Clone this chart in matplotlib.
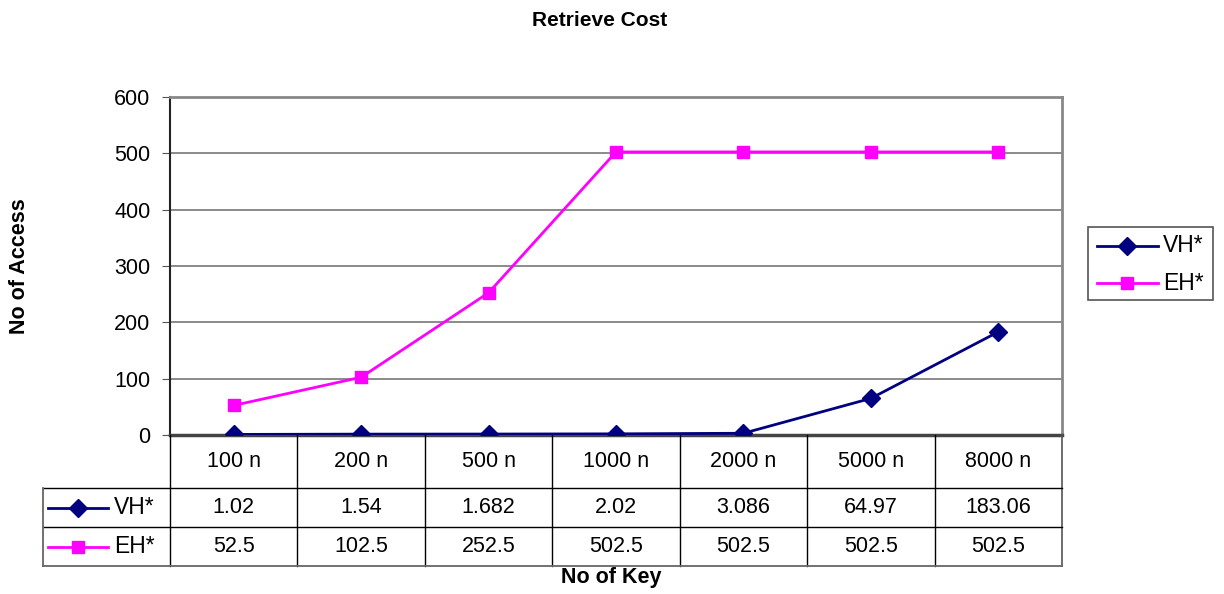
import matplotlib
matplotlib.use("Agg")
import matplotlib.pyplot as plt
from matplotlib.lines import Line2D
from matplotlib.patches import Rectangle

plt.rcParams['font.family'] = ['Liberation Sans', 'DejaVu Sans']

keys = ["100 n", "200 n", "500 n", "1000 n", "2000 n", "5000 n", "8000 n"]
vh = [1.02, 1.54, 1.682, 2.02, 3.086, 64.97, 183.06]
eh = [52.5, 102.5, 252.5, 502.5, 502.5, 502.5, 502.5]
vh_txt = ["1.02", "1.54", "1.682", "2.02", "3.086", "64.97", "183.06"]
eh_txt = ["52.5", "102.5", "252.5", "502.5", "502.5", "502.5", "502.5"]
yticks = [0, 100, 200, 300, 400, 500, 600]

W, H = 1224, 594
VH_COL = "#000080"
EH_COL = "#FF00FF"
FS = 15.5

def fx(x):
    return x / W

def fy(y):
    return 1 - y / H

fig = plt.figure(figsize=(W / 100, H / 100), dpi=100)

# plot area in pixel terms
L, R, T, B = 170, 1062, 97, 435
ax = fig.add_axes([fx(L), fy(B), fx(R - L), (B - T) / H])

xs = list(range(len(keys)))
ax.plot(xs, vh, color=VH_COL, lw=2, marker="D", ms=9.5, mfc=VH_COL, mec=VH_COL, zorder=3)
ax.plot(xs, eh, color=EH_COL, lw=2, marker="s", ms=9, mfc=EH_COL, mec=EH_COL, zorder=3)

ax.set_xlim(-0.5, len(keys) - 0.5)
ax.set_ylim(0, 600)
ax.set_yticks(yticks)
ax.tick_params(axis="y", labelsize=FS, length=6, pad=8, direction="out", color="#555555")
ax.set_xticks([])
ax.yaxis.grid(True, color="#777777", lw=1.2)
ax.set_axisbelow(True)
for s in ["top", "right"]:
    ax.spines[s].set_color("#888888")
    ax.spines[s].set_linewidth(2)
ax.spines["left"].set_color("#222222")
ax.spines["left"].set_linewidth(1.5)
ax.spines["bottom"].set_color("#444444")
ax.spines["bottom"].set_linewidth(2.5)

fig.text(fx(600), fy(20), "Retrieve Cost", ha="center", va="center", fontsize=15, fontweight="bold")
fig.text(fx(20), fy(266), "No of Access", ha="center", va="center", rotation=90, fontsize=15.5, fontweight="bold")
fig.text(fx(611), fy(577), "No of Key", ha="center", va="center", fontsize=15.5, fontweight="bold")

# data table under the plot
n = len(keys)
cw = (R - L) / n
rows_y = [435, 488, 527, 566]
lab_x = 43

def hline(x0, x1, y, c="black", lw=1.0):
    fig.add_artist(Line2D([fx(x0), fx(x1)], [fy(y), fy(y)], color=c, lw=lw))

def vline(x, y0, y1, c="black", lw=1.0):
    fig.add_artist(Line2D([fx(x), fx(x)], [fy(y0), fy(y1)], color=c, lw=lw))

for k in range(n + 1):
    vline(L + k * cw, rows_y[0], rows_y[3], c="#555555" if k == n else "black", lw=1.2 if k == n else 1.0)
hline(lab_x, R, rows_y[1])
hline(lab_x, R, rows_y[2])
hline(lab_x, R, rows_y[3], c="#666666", lw=1.3)
vline(lab_x, rows_y[1], rows_y[3], c="#666666", lw=1.3)

for k in range(n):
    cx = L + (k + 0.5) * cw
    fig.text(fx(cx), fy((rows_y[0] + rows_y[1]) / 2), keys[k], ha="center", va="center", fontsize=FS)
    fig.text(fx(cx), fy((rows_y[1] + rows_y[2]) / 2), vh_txt[k], ha="center", va="center", fontsize=FS)
    fig.text(fx(cx), fy((rows_y[2] + rows_y[3]) / 2), eh_txt[k], ha="center", va="center", fontsize=FS)

for (name, col, mk, ms, r) in [("VH*", VH_COL, "D", 9.5, 1), ("EH*", EH_COL, "s", 9, 2)]:
    yc = (rows_y[r] + rows_y[r + 1]) / 2
    fig.add_artist(Line2D([fx(48), fx(108)], [fy(yc), fy(yc)], color=col, lw=2))
    fig.add_artist(Line2D([fx(78)], [fy(yc)], color=col, marker=mk, ms=ms, mfc=col, mec=col, lw=0))
    fig.text(fx(114), fy(yc), name, ha="left", va="center", fontsize=FS + 1)

# legend box on the right
fig.add_artist(Rectangle((fx(1088), fy(300)), fx(1213 - 1088), (300 - 227) / H,
                         fill=False, ec="#555555", lw=1.2))
for (name, col, mk, ms, yc) in [("VH*", VH_COL, "D", 9.5, 246), ("EH*", EH_COL, "s", 9, 283)]:
    fig.add_artist(Line2D([fx(1097), fx(1158)], [fy(yc), fy(yc)], color=col, lw=2))
    fig.add_artist(Line2D([fx(1127)], [fy(yc)], color=col, marker=mk, ms=ms, mfc=col, mec=col, lw=0))
    fig.text(fx(1163), fy(yc), name, ha="left", va="center", fontsize=FS + 1)

fig.savefig("out.png", dpi=100)
